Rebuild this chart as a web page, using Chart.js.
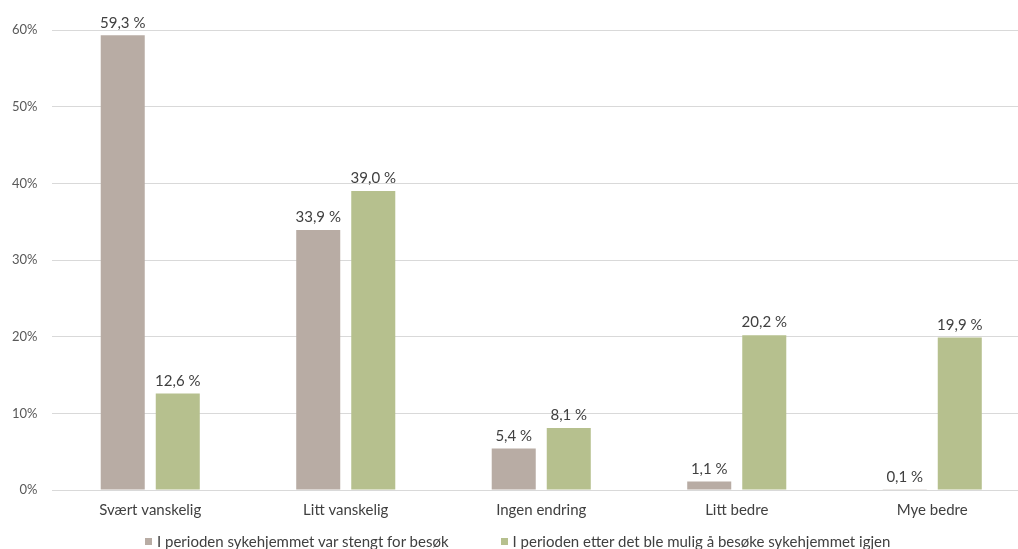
<!DOCTYPE html>
<html>
<head>
<meta charset="utf-8">
<script src="https://cdn.jsdelivr.net/npm/chart.js@4"></script>
<style>
  html, body { margin: 0; padding: 0; background: #fff; overflow: hidden; }
  #wrap { position: relative; width: 1030px; height: 549px; }
  #legend {
    position: absolute; left: 145px; top: 532px;
    display: flex; align-items: center;
    font: 15px Lato, 'Open Sans', sans-serif; color: #404040; white-space: nowrap;
  }
  #legend .item { display: flex; align-items: center; margin-right: 52px; }
  #legend .box { width: 7px; height: 7px; margin-right: 5px; }
</style>
</head>
<body>
<div id="wrap">
  <canvas id="besokChart" width="1030" height="549"></canvas>
  <div id="legend"></div>
</div>
<script>
const categories = ["Svært vanskelig", "Litt vanskelig", "Ingen endring", "Litt bedre", "Mye bedre"];
const stengtValues = [59.3, 33.9, 5.4, 1.1, 0.1];
const aapenValues = [12.6, 39.0, 8.1, 20.2, 19.9];
const seriesNames = [
  "I perioden sykehjemmet var stengt for besøk",
  "I perioden etter det ble mulig å besøke sykehjemmet igjen"
];
const seriesColors = ["#b8aca4", "#b6c08e"];

const fontFamily = "Lato, 'Open Sans', sans-serif";

// skriver verdien over hver søyle, f.eks. "59,3 %"
const valueLabels = {
  id: "valueLabels",
  afterDatasetsDraw(chart) {
    const ctx = chart.ctx;
    ctx.save();
    ctx.font = "15px " + fontFamily;
    ctx.fillStyle = "#404040";
    ctx.textAlign = "center";
    ctx.textBaseline = "bottom";
    chart.data.datasets.forEach((ds, i) => {
      chart.getDatasetMeta(i).data.forEach((bar, j) => {
        const txt = ds.data[j].toFixed(1).replace(".", ",") + " %";
        ctx.fillText(txt, bar.x, bar.y - 5);
      });
    });
    ctx.restore();
  }
};

const ctx = document.getElementById("besokChart").getContext("2d");

const besokChart = new Chart(ctx, {
  type: "bar",
  data: {
    labels: categories,
    datasets: [
      {
        label: seriesNames[0],
        data: stengtValues,
        backgroundColor: seriesColors[0],
        categoryPercentage: 0.563,
        barPercentage: 0.8
      },
      {
        label: seriesNames[1],
        data: aapenValues,
        backgroundColor: seriesColors[1],
        categoryPercentage: 0.563,
        barPercentage: 0.8
      }
    ]
  },
  options: {
    responsive: false,
    animation: false,
    layout: { padding: { top: 30, left: -3, right: 0, bottom: 27 } },
    plugins: {
      legend: { display: false },
      tooltip: { enabled: false }
    },
    scales: {
      x: {
        grid: { display: false },
        border: { color: "#d9d9d9" },
        ticks: {
          color: "#404040",
          padding: 3,
          font: { family: fontFamily, size: 15 }
        }
      },
      y: {
        min: 0,
        max: 60,
        grid: { color: "#d9d9d9", drawTicks: false },
        border: { display: false },
        ticks: {
          stepSize: 10,
          padding: 15,
          color: "#595959",
          font: { family: fontFamily, size: 13 },
          callback: v => v + "%"
        }
      }
    }
  },
  plugins: [valueLabels]
});

// egen forklaring under diagrammet
const legendEl = document.getElementById("legend");
besokChart.data.datasets.forEach(ds => {
  const item = document.createElement("span");
  item.className = "item";
  const box = document.createElement("span");
  box.className = "box";
  box.style.background = ds.backgroundColor;
  item.appendChild(box);
  item.appendChild(document.createTextNode(ds.label));
  legendEl.appendChild(item);
});
</script>
</body>
</html>
